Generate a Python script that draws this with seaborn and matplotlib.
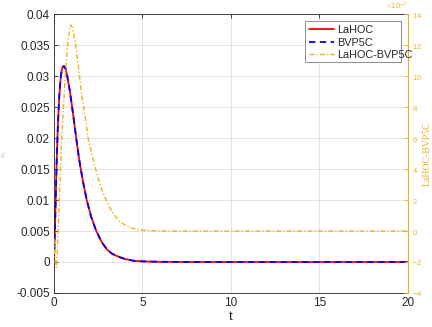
import matplotlib
matplotlib.use("Agg")
import matplotlib.pyplot as plt
import numpy as np
import pandas as pd
import seaborn as sns
from matplotlib.patches import Rectangle
from matplotlib.ticker import FuncFormatter, ScalarFormatter

# values
t_x1 = [0.0, 0.05, 0.1, 0.15, 0.2, 0.25, 0.3, 0.35, 0.4, 0.45, 0.5, 0.56, 0.65,
        0.75, 0.9, 1.0, 1.1, 1.2, 1.3, 1.4, 1.5, 1.65, 1.85, 2.1, 2.39, 2.7,
        3.0, 3.3, 3.73, 4.0, 4.5, 5.0, 6.0, 8.0, 12.0, 20.0]
x1_lahoc = [0.0, 0.0052, 0.0105, 0.0160, 0.0205, 0.0240, 0.0268, 0.0288, 0.0302,
            0.0311, 0.0315, 0.0316, 0.0312, 0.0300, 0.0275, 0.0255, 0.0234,
            0.0212, 0.0190, 0.0170, 0.0152, 0.0128, 0.0100, 0.0073, 0.0050,
            0.0032, 0.0020, 0.0013, 0.00076, 0.0005, 0.0002, 0.0001, 0.00003,
            0.0, 0.0, 0.0]
x1_bvp5c = [0.0, 0.0052, 0.0105, 0.0160, 0.0205, 0.0240, 0.0268, 0.0288, 0.0302,
            0.0311, 0.0315, 0.0316, 0.0312, 0.0300, 0.0275, 0.0255, 0.0234,
            0.0212, 0.0190, 0.0170, 0.0152, 0.0128, 0.0100, 0.0073, 0.0050,
            0.0032, 0.0020, 0.0013, 0.00076, 0.0005, 0.0002, 0.0001, 0.00003,
            0.0, 0.0, 0.0]

t_diff = [0.0, 0.05, 0.12, 0.18, 0.23, 0.3, 0.4, 0.5, 0.6, 0.68, 0.8, 0.94, 1.05,
          1.2, 1.37, 1.55, 1.79, 1.94, 2.15, 2.35, 2.6, 2.86, 3.16, 3.39, 3.73,
          4.0, 4.3, 4.7, 5.0, 5.5, 6.5, 10.0, 20.0]
diff_e7 = [-0.5, -1.8, -2.35, -1.6, 0.0, 2.0, 5.0, 7.3, 9.3, 10.7, 12.4, 13.3, 13.1,
           12.2, 10.7, 8.9, 7.16, 5.9, 4.9, 4.0, 3.0, 2.2, 1.5, 1.05, 0.6,
           0.4, 0.22, 0.1, 0.06, 0.02, 0.0, 0.0, 0.0]

left_ticks = [-0.005, 0.0, 0.005, 0.01, 0.015, 0.02, 0.025, 0.03, 0.035, 0.04]
right_ticks = [-4, -2, 0, 2, 4, 6, 8, 10, 12, 14]
x_ticks = [0, 5, 10, 15, 20]

DARK = "#262626"
ORANGE = "#EDB120"

sns.set_style("whitegrid", {"grid.color": "#e3e3e3", "axes.edgecolor": DARK})
plt.rcParams["font.family"] = ["Liberation Sans", "DejaVu Sans"]
plt.rcParams["mathtext.fontset"] = "cm"

df_x1 = pd.DataFrame({"t": t_x1, "lahoc": x1_lahoc, "bvp5c": x1_bvp5c})
df_diff = pd.DataFrame({"t": t_diff, "diff": np.array(diff_e7) * 1e-7})

fig, ax = plt.subplots(figsize=(4.32, 3.27), dpi=100)
fig.subplots_adjust(left=0.125, right=0.944, bottom=0.104, top=0.957)

sns.lineplot(data=df_x1, x="t", y="lahoc", color="#FF0000", lw=1.3, ax=ax, label="LaHOC", legend=False)
sns.lineplot(data=df_x1, x="t", y="bvp5c", color="#0000FF", lw=1.3, ax=ax, label="BVP5C",
             legend=False, dashes=False, linestyle=(0, (3.5, 2.5)))

ax.set_xlim(0, 20)
ax.set_ylim(-0.005, 0.04)
ax.set_xticks(x_ticks)
ax.set_yticks(left_ticks)
ax.yaxis.set_major_formatter(FuncFormatter(lambda v, _: "0" if abs(v) < 1e-12 else f"{v:g}"))
ax.grid(True, color="#e3e3e3", lw=0.7)
ax.tick_params(direction="in", length=3, width=0.6, colors=DARK, labelsize=8.5,
               top=True, right=False, pad=3)
for s in ax.spines.values():
    s.set_color(DARK)
    s.set_linewidth(0.6)
ax.set_xlabel("t", fontsize=9.5, color=DARK, labelpad=1)
ax.set_ylabel("$x_1$", fontsize=5, color="#999999")
ax.yaxis.set_label_coords(-0.128, 0.5)

ax2 = ax.twinx()
sns.lineplot(data=df_diff, x="t", y="diff", color=ORANGE, lw=1.0, ax=ax2, label="LaHOC-BVP5C",
             legend=False, linestyle=(0, (3.5, 1.5, 1, 1.5)))
ax2.set_ylim(-4e-7, 14e-7)
ax2.set_yticks([v * 1e-7 for v in right_ticks])
fmt = ScalarFormatter(useMathText=True)
fmt.set_powerlimits((-7, -7))
ax2.yaxis.set_major_formatter(fmt)
ax2.yaxis.get_offset_text().set_fontsize(5.5)
ax2.yaxis.get_offset_text().set_color(ORANGE)
ax2.grid(False)
ax2.tick_params(direction="in", length=3, width=0.6, colors=ORANGE, labelsize=5.5, pad=3)
for name, s in ax2.spines.items():
    s.set_visible(name == "right")
ax2.spines["right"].set_color(ORANGE)
ax2.spines["right"].set_linewidth(0.8)
ax2.set_ylabel("LaHOC-BVP5C", fontsize=7, color=ORANGE, family="Liberation Serif")
ax2.yaxis.set_label_coords(1.042, 0.5)

# legend box as drawn in the reference (text runs past the frame)
ax2.add_patch(Rectangle((0.709, 0.828), 0.273, 0.147, transform=ax2.transAxes,
                        facecolor="white", edgecolor="#8c8c8c", lw=0.7, zorder=4, clip_on=False))
handles = ax.get_lines()[:2] + ax2.get_lines()[:1]
leg = ax2.legend(handles, ["LaHOC", "BVP5C", "LaHOC-BVP5C"], loc="upper left",
                 bbox_to_anchor=(0.709, 0.975), borderaxespad=0, frameon=False,
                 fontsize=7.8, handlelength=2.3, handletextpad=0.3, labelspacing=0.25,
                 borderpad=0.35)
leg.set_zorder(5)
for txt in leg.get_texts():
    txt.set_color(DARK)

fig.savefig("out.png", dpi=100)
